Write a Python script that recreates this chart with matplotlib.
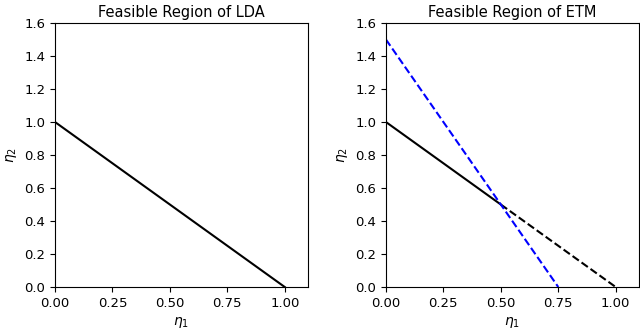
import matplotlib
matplotlib.use("Agg")
import matplotlib.pyplot as plt

# LDA constraint: eta1 + eta2 = 1
lda_x = [0.0, 1.0]
lda_y = [1.0, 0.0]

# ETM: binding (solid) and non-binding (dashed) parts of eta1 + eta2 = 1
etm_solid_x = [0.0, 0.5]
etm_solid_y = [1.0, 0.5]
etm_dash_x = [0.5, 1.0]
etm_dash_y = [0.5, 0.0]
# second ETM constraint: 2*eta1 + eta2 = 1.5
etm_blue_x = [0.0, 0.75]
etm_blue_y = [1.5, 0.0]

xticks = [0.0, 0.25, 0.5, 0.75, 1.0]
yticks = [0.0, 0.2, 0.4, 0.6, 0.8, 1.0, 1.2, 1.4, 1.6]

fig = plt.figure(figsize=(6.4, 3.33), dpi=100)
ax1 = fig.add_axes([0.0859, 0.138, 0.395, 0.793])
ax2 = fig.add_axes([0.603, 0.138, 0.395, 0.793])

ax1.plot(lda_x, lda_y, color="black")
ax1.set_title("Feasible Region of LDA", fontsize=10.5, pad=4)

ax2.plot(etm_solid_x, etm_solid_y, color="black")
ax2.plot(etm_dash_x, etm_dash_y, color="black", linestyle="--")
ax2.plot(etm_blue_x, etm_blue_y, color="blue", linestyle="--")
ax2.set_title("Feasible Region of ETM", fontsize=10.5, pad=4)

for ax in (ax1, ax2):
    ax.set_xlim(0, 1.1)
    ax.set_ylim(0, 1.6)
    ax.set_xticks(xticks)
    ax.set_yticks(yticks)
    ax.tick_params(labelsize=9.5)
    ax.set_xlabel(r"$\eta_1$", fontsize=10)
    ax.set_ylabel(r"$\eta_2$", fontsize=10)

fig.savefig("out.png", dpi=100)
